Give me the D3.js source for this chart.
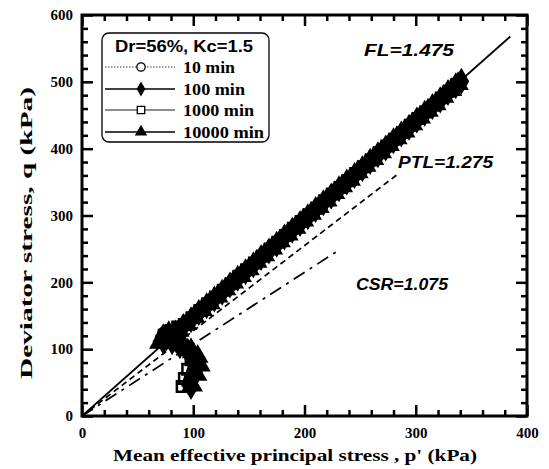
<!DOCTYPE html>
<html><head><meta charset="utf-8">
<script src="https://cdn.jsdelivr.net/npm/d3@7"></script>
<style>
body{margin:0;background:#fff;}
svg{display:block;}
</style></head>
<body>
<svg id="chart" width="549" height="469"></svg>
<script>
// ---- data ----
const xTicks = [0, 100, 200, 300, 400];
const yTicks = [0, 100, 200, 300, 400, 500, 600];
const seriesNames = ["10 min", "100 min", "1000 min", "10000 min"];
const legendTitle = "Dr=56%, Kc=1.5";

const p10 = [97,99,102,104,101,94,86,79,75,72,74,77,82,89,96,103,110,117,124,131,138,145,152,159,166,173,180,187,194,201,208,215,222,229,236,243,250,257,264,271,278,285,292,299,306,313,320,327,334,339];
const q10 = [44,56,68,80,92,101,108,113,118,116,123,126,121,131,141,151,162,172,182,193,203,213,223,234,244,254,265,275,285,295,306,316,326,337,347,357,367,378,388,398,409,419,429,440,450,460,470,481,491,498];

const p100 = [98,100,102,100,95,88,81,76,73,78,84,91,98,105,112,119,126,133,140,147,154,161,168,175,182,189,196,203,210,217,224,231,238,245,252,259,266,273,280,287,294,301,308,315,322,329,336,341];
const q100 = [44,58,72,86,97,105,111,117,112,123,124,134,144,155,165,175,185,196,206,216,226,237,247,257,268,278,288,298,309,319,329,340,350,360,370,381,391,401,412,422,432,443,453,463,473,484,494,501];

const p1000 = [90,92,95,98,96,90,83,77,74,80,86,78,85,92,99,106,113,120,127,134,141,148,155,162,169,176,183,190,197,204,211,218,225,232,239,246,253,260,267,274,281,288,295,302,309,316,323,330,337];
const q1000 = [44,56,70,84,96,104,110,115,121,128,133,117,127,137,147,158,168,178,188,198,209,219,229,239,250,260,270,281,291,301,311,322,332,342,352,363,373,383,394,404,414,424,435,445,455,465,476,486,496];

const p10000 = [99,103,106,104,98,91,84,78,73,70,80,87,94,101,108,115,122,129,136,143,150,157,164,171,178,185,192,199,206,213,220,227,234,241,248,255,262,269,276,283,290,297,304,311,318,325,332,338];
const q10000 = [46,62,76,89,99,106,112,116,120,110,118,128,138,149,159,169,179,190,200,210,220,231,241,251,262,272,282,293,303,313,323,334,344,354,365,375,385,395,406,416,426,437,447,457,467,478,488,497];

// reference lines: label, slope, end p'
const refLabels = ["FL=1.475", "PTL=1.275", "CSR=1.075"];
const refSlopes = [1.475, 1.275, 1.075];
const refEndP = [385, 283, 230];

// ---- chart ----
const svg = d3.select("#chart");
const x = d3.scaleLinear().domain([0, 400]).range([82, 527]);
const y = d3.scaleLinear().domain([0, 600]).range([416, 15]);

const serif = "'Liberation Serif','Times New Roman',serif";
const sans = "'Liberation Sans',Arial,sans-serif";

svg.append("clipPath").attr("id","clip").append("rect")
  .attr("x", x(0)).attr("y", y(600)).attr("width", x(400)-x(0)).attr("height", y(0)-y(600));

// reference lines
const dashes = [null, "6,4", "13,6,3,6"];
const refG = svg.append("g").attr("clip-path","url(#clip)");
refSlopes.forEach((s,i)=>{
  refG.append("line")
    .attr("x1", x(0)).attr("y1", y(0))
    .attr("x2", x(refEndP[i])).attr("y2", y(s*refEndP[i]))
    .attr("stroke","#000").attr("stroke-width", i===0?1.8:1.7)
    .attr("stroke-dasharray", dashes[i]);
});

// series
const series = [
  {p:p10, q:q10, sym:d3.symbolCircle, fill:"none", dash:"2,2", size:120},
  {p:p100, q:q100, sym:d3.symbolDiamond, fill:"#000", dash:null, size:140},
  {p:p1000, q:q1000, sym:d3.symbolSquare, fill:"none", dash:null, size:110},
  {p:p10000, q:q10000, sym:d3.symbolTriangle, fill:"#000", dash:null, size:130}
];
const dataG = svg.append("g").attr("clip-path","url(#clip)");
const lineGen = d3.line().x(d=>x(d[0])).y(d=>y(d[1]));
series.forEach(s=>{
  const pts = s.p.map((v,i)=>[v, s.q[i]]);
  dataG.append("path").attr("d", lineGen(pts)).attr("fill","none")
    .attr("stroke","#000").attr("stroke-width",2).attr("stroke-dasharray", s.dash);
  dataG.selectAll(null).data(pts).enter().append("path")
    .attr("d", d3.symbol().type(s.sym).size(s.size))
    .attr("transform", d=>`translate(${x(d[0])},${y(d[1])})`)
    .attr("fill", s.fill).attr("stroke","#000").attr("stroke-width",2.5);
});

// axes
const minorX = d3.range(0, 401, 20).filter(v=>v%100!==0);
const minorY = d3.range(0, 601, 20).filter(v=>v%100!==0);
function styleAxis(g){
  g.select(".domain").remove();
  g.selectAll(".tick line").attr("stroke","#000").attr("stroke-width",2.5);
  g.selectAll("text").attr("font-family", serif).attr("font-weight","bold")
    .attr("font-size","15px").attr("fill","#000");
}
svg.append("g").attr("transform",`translate(0,${y(0)})`)
  .call(d3.axisBottom(x).tickValues(xTicks).tickSize(-11).tickPadding(11).tickFormat(d3.format("d"))).call(styleAxis);
svg.append("g").attr("transform",`translate(0,${y(0)})`)
  .call(d3.axisBottom(x).tickValues(minorX).tickSize(-6).tickFormat("")).call(styleAxis);
svg.append("g").attr("transform",`translate(0,${y(600)})`)
  .call(d3.axisTop(x).tickValues(xTicks).tickSize(-11).tickFormat("")).call(styleAxis);
svg.append("g").attr("transform",`translate(0,${y(600)})`)
  .call(d3.axisTop(x).tickValues(minorX).tickSize(-6).tickFormat("")).call(styleAxis);
svg.append("g").attr("transform",`translate(${x(0)},0)`)
  .call(d3.axisLeft(y).tickValues(yTicks).tickSize(-11).tickPadding(9).tickFormat(d3.format("d"))).call(styleAxis);
svg.append("g").attr("transform",`translate(${x(0)},0)`)
  .call(d3.axisLeft(y).tickValues(minorY).tickSize(-6).tickFormat("")).call(styleAxis);
svg.append("g").attr("transform",`translate(${x(400)},0)`)
  .call(d3.axisRight(y).tickValues(yTicks).tickSize(-11).tickFormat("")).call(styleAxis);
svg.append("g").attr("transform",`translate(${x(400)},0)`)
  .call(d3.axisRight(y).tickValues(minorY).tickSize(-6).tickFormat("")).call(styleAxis);

// frame
svg.append("rect").attr("x", x(0)).attr("y", y(600))
  .attr("width", x(400)-x(0)).attr("height", y(0)-y(600))
  .attr("fill","none").attr("stroke","#000").attr("stroke-width",3);

// axis titles
svg.append("text").attr("x", 295).attr("y", 461).attr("text-anchor","middle")
  .attr("font-family", serif).attr("font-weight","bold").attr("font-size","17px")
  .attr("textLength", 364).attr("lengthAdjust","spacingAndGlyphs")
  .text("Mean effective principal stress ,  p' (kPa)");
svg.append("text").attr("transform","translate(32,233) rotate(-90)").attr("text-anchor","middle")
  .attr("font-family", serif).attr("font-weight","bold").attr("font-size","17px")
  .attr("textLength", 292).attr("lengthAdjust","spacingAndGlyphs")
  .text("Deviator stress,  q (kPa)");

// reference labels
const labPos = [[364,56],[398,168],[356,290]];
const labLen = [90, 95, 92];
refLabels.forEach((t,i)=>{
  svg.append("text").attr("x", labPos[i][0]).attr("y", labPos[i][1])
    .attr("font-family", sans).attr("font-weight","bold").attr("font-style","italic")
    .attr("font-size","17px").attr("textLength", labLen[i]).attr("lengthAdjust","spacingAndGlyphs")
    .text(t);
});

// legend
const lg = svg.append("g");
lg.append("rect").attr("x",102).attr("y",33).attr("width",167).attr("height",109)
  .attr("rx",7).attr("fill","#fff").attr("stroke","#000").attr("stroke-width",1.3);
lg.append("text").attr("x",115).attr("y",52)
  .attr("font-family", sans).attr("font-weight","bold").attr("font-size","16px")
  .attr("textLength",138).attr("lengthAdjust","spacingAndGlyphs").text(legendTitle);
const legY = [67, 89, 110, 132];
const legDash = ["1.5,1.5", null, null, null];
const legW = [0.8, 1.3, 0.9, 1.3];
const legLen = [52, 62, 71, 81];
series.forEach((s,i)=>{
  lg.append("line").attr("x1",105).attr("x2",175).attr("y1",legY[i]).attr("y2",legY[i])
    .attr("stroke","#000").attr("stroke-width",legW[i]).attr("stroke-dasharray",legDash[i]);
  lg.append("path").attr("d", d3.symbol().type(s.sym).size(s.fill==="none"?55:45))
    .attr("transform",`translate(141,${legY[i]})`)
    .attr("fill", s.fill==="none"?"#fff":"#000").attr("stroke","#000").attr("stroke-width",1.3);
  lg.append("text").attr("x",183).attr("y",legY[i]+6)
    .attr("font-family", serif).attr("font-weight","bold").attr("font-size","16px")
    .attr("textLength", legLen[i]).attr("lengthAdjust","spacingAndGlyphs").text(seriesNames[i]);
});
</script>
</body></html>
